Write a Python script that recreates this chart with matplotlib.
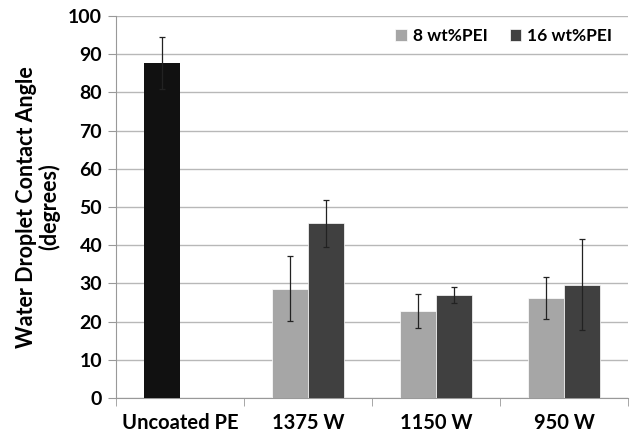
import numpy as np
import matplotlib.pyplot as plt

categories = ['Uncoated PE', '1375 W', '1150 W', '950 W']
uncoated_val = 87.7
uncoated_err = 6.9
pei8_vals = [28.6, 22.8, 26.3]
pei8_errs = [8.5, 4.4, 5.5]
pei16_vals = [45.7, 26.9, 29.7]
pei16_errs = [6.2, 2.1, 11.8]
series_labels = ['8 wt%PEI', '16 wt%PEI']

plt.rcParams['font.family'] = ['Lato', 'DejaVu Sans']
plt.rcParams['font.weight'] = 'bold'

fig = plt.figure(figsize=(6.32, 4.38), dpi=100)
ax = fig.add_axes([116/632, 40/438, 512/632, 382/438])

w = 0.28
x = np.arange(len(categories))
err_kw = dict(ecolor='#222222', elinewidth=0.9, capsize=2.5, capthick=0.9)

ax.bar(x[0] - w/2, uncoated_val, w, color='#111111', yerr=uncoated_err,
       error_kw=err_kw, zorder=3)
ax.bar(x[1:] - w/2, pei8_vals, w, color='#a6a6a6', yerr=pei8_errs,
       error_kw=err_kw, label=series_labels[0], zorder=3, edgecolor='white', linewidth=0.5)
ax.bar(x[1:] + w/2, pei16_vals, w, color='#404040', yerr=pei16_errs,
       error_kw=err_kw, label=series_labels[1], zorder=3, edgecolor='white', linewidth=0.5)

ax.set_xlim(-0.5, len(categories) - 0.5)
ax.set_ylim(0, 100)
ax.set_yticks(np.arange(0, 101, 10))
ax.yaxis.grid(True, color='#b8b8b8', linewidth=1)
ax.set_axisbelow(True)

ax.set_xticks(x)
ax.set_xticklabels(categories, fontsize=14.5, fontweight='bold')
ax.set_xticks(np.arange(-0.5, len(categories), 1), minor=True)
ax.tick_params(axis='x', which='major', length=0, pad=11)
ax.tick_params(axis='x', which='minor', length=6, color='#999999')
ax.tick_params(axis='y', length=6, color='#999999', labelsize=14, pad=4)
for lab in ax.get_yticklabels():
    lab.set_fontweight('bold')

for s in ['top', 'right']:
    ax.spines[s].set_visible(False)
ax.spines['left'].set_color('#999999')
ax.spines['bottom'].set_color('#999999')

ax.set_ylabel('Water Droplet Contact Angle\n(degrees)', fontsize=15.5,
              fontweight='bold', labelpad=6, linespacing=1.05)

leg = ax.legend(loc='upper right', bbox_to_anchor=(1.0, 1.01), ncol=2, frameon=False,
                fontsize=12.5, handlelength=0.65, handleheight=0.65, handletextpad=0.35,
                columnspacing=1.3)
for t in leg.get_texts():
    t.set_fontweight('bold')

fig.savefig('out.png', dpi=100)
